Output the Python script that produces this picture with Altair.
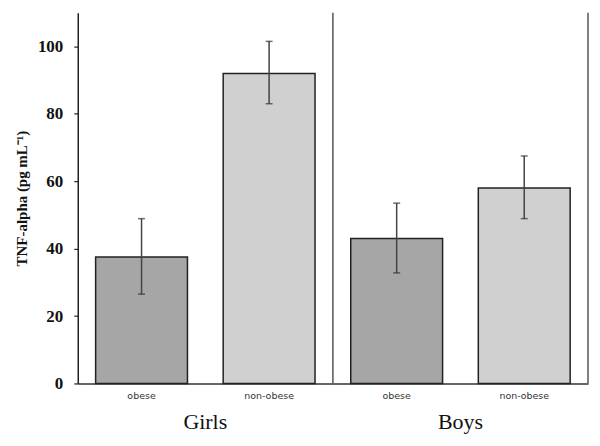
import altair as alt
import pandas as pd

categories = ["Girls obese", "Girls non-obese", "Boys obese", "Boys non-obese"]
groups = ["Girls", "Girls", "Boys", "Boys"]
status = ["obese", "non-obese", "obese", "non-obese"]
means = [37.5, 92.0, 43.0, 58.0]
lower = [26.5, 83.0, 32.8, 48.9]
upper = [48.9, 101.5, 53.5, 67.5]
group_names = ["Girls", "Boys"]
y_ticks = list(range(0, 111, 5))

df = pd.DataFrame({"cat": categories, "group": groups, "status": status,
                   "mean": means, "lo": lower, "hi": upper})
gdf = pd.DataFrame({"group": group_names})

xcat = alt.X("cat:N", sort=categories,
             scale=alt.Scale(paddingInner=0.28, paddingOuter=0.14),
             axis=alt.Axis(orient="bottom", title=None, ticks=False, tickSize=0,
                           labelAngle=0, labelExpr="split(datum.label, ' ')[1]",
                           labelFont="DejaVu Sans", labelFontSize=9.5, labelColor="#333",
                           labelPadding=7, domainColor="#333", domainWidth=1.5))

yax = alt.Axis(values=y_ticks, grid=False,
               labelExpr="datum.value % 20 === 0 ? datum.label : ''",
               tickSize=4, labelPadding=11, labelFont="Liberation Serif",
               labelFontWeight="bold", labelFontSize=17, labelColor="#111",
               title="TNF-alpha (pg mL⁻¹)", titleFont="Liberation Serif",
               titleFontWeight="bold", titleFontSize=15, titleColor="#111",
               titlePadding=8, domainColor="#222", domainWidth=1.5,
               tickColor="#222", tickWidth=1.2)

ysc = alt.Scale(domain=[0, 110], nice=False)

bars = alt.Chart(df).mark_bar(stroke="#222", strokeWidth=1.5).encode(
    x=xcat,
    y=alt.Y("mean:Q", scale=ysc, axis=yax),
    fill=alt.Fill("status:N", scale=alt.Scale(domain=["obese", "non-obese"],
                                              range=["#a6a6a6", "#d0d0d0"]), legend=None),
)

err = alt.Chart(df).mark_rule(color="#444", strokeWidth=1.5).encode(
    x=alt.X("cat:N", sort=categories), y="lo:Q", y2="hi:Q")
cap_lo = alt.Chart(df).mark_tick(color="#333", thickness=1.5, size=7).encode(
    x=alt.X("cat:N", sort=categories), y="lo:Q")
cap_hi = alt.Chart(df).mark_tick(color="#333", thickness=1.5, size=7).encode(
    x=alt.X("cat:N", sort=categories), y="hi:Q")

left = alt.layer(bars, err, cap_lo, cap_hi)

dividers = alt.Chart(gdf).mark_rule(color="#555", strokeWidth=1.5).encode(
    x=alt.X("group:N", sort=group_names, bandPosition=1,
            scale=alt.Scale(paddingInner=0, paddingOuter=0),
            axis=alt.Axis(orient="bottom", title=None, domain=False, ticks=False,
                          tickSize=0, labelAngle=0, labelFont="Liberation Serif",
                          labelFontSize=22, labelColor="#111", labelPadding=28)),
    y=alt.datum(0), y2=alt.datum(110),
)

chart = alt.layer(left, dividers).resolve_scale(x="independent").properties(
    width=512, height=372,
    autosize=alt.AutoSizeParams(type="none"),
    padding={"left": 70, "top": 4, "right": 4, "bottom": 56},
).configure_view(stroke=None)

chart.save("out.html", embed_options={"renderer": "svg", "actions": False})
